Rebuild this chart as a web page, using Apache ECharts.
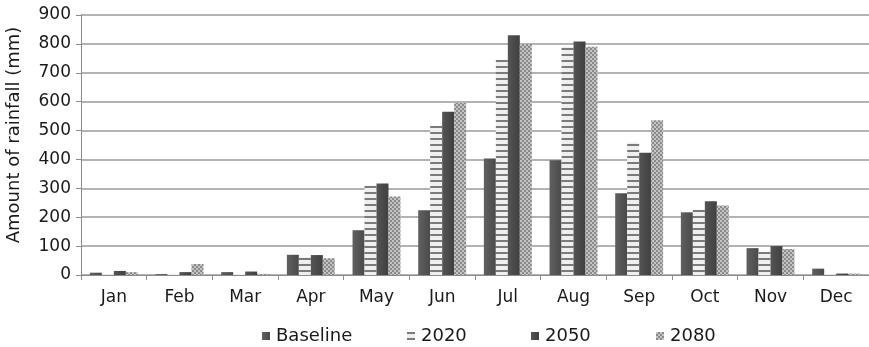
<!DOCTYPE html>
<html>
<head>
<meta charset="utf-8">
<script src="https://cdn.jsdelivr.net/npm/echarts@6/dist/echarts.min.js"></script>
<style>
  html, body { margin: 0; padding: 0; background: #ffffff; }
  #chart { width: 869px; height: 347px; }
</style>
</head>
<body>
<div id="chart"></div>
<script>
// Monthly rainfall (mm): baseline and projections
const months = ['Jan', 'Feb', 'Mar', 'Apr', 'May', 'Jun', 'Jul', 'Aug', 'Sep', 'Oct', 'Nov', 'Dec'];
const seriesNames = ['Baseline', '2020', '2050', '2080'];
const baseline = [8, 3, 10, 70, 155, 224, 403, 397, 283, 217, 93, 22];
const y2020 = [3, 5, 4, 62, 310, 517, 745, 790, 459, 226, 80, 3];
const y2050 = [14, 10, 12, 69, 317, 565, 830, 808, 423, 255, 100, 5];
const y2080 = [10, 38, 4, 58, 272, 595, 800, 790, 536, 241, 90, 5];
const yTicks = { min: 0, max: 900, step: 100 };

// Fill patterns for the hatched series
function stripePattern() {
  const c = document.createElement('canvas');
  c.width = 6; c.height = 6;
  const g = c.getContext('2d');
  g.fillStyle = '#efefef';
  g.fillRect(0, 0, 6, 6);
  g.fillStyle = '#7a7a7a';
  g.fillRect(0, 0, 6, 2);
  return c;
}
function checkerPattern() {
  const c = document.createElement('canvas');
  c.width = 4; c.height = 4;
  const g = c.getContext('2d');
  g.fillStyle = '#8a8a8a';
  g.fillRect(0, 0, 4, 4);
  g.fillStyle = '#c4c4c4';
  g.fillRect(0, 0, 2, 2);
  g.fillRect(2, 2, 2, 2);
  return c;
}

const fills = [
  new echarts.graphic.LinearGradient(0, 0, 1, 0, [
    { offset: 0, color: '#606060' }, { offset: 0.5, color: '#555555' }, { offset: 1, color: '#4a4a4a' }
  ]),
  { image: stripePattern(), repeat: 'repeat' },
  new echarts.graphic.LinearGradient(0, 0, 1, 0, [
    { offset: 0, color: '#555555' }, { offset: 0.5, color: '#4a4a4a' }, { offset: 1, color: '#404040' }
  ]),
  { image: checkerPattern(), repeat: 'repeat' }
];
const values = [baseline, y2020, y2050, y2080];

const FONT = 'DejaVu Sans';
const legendLeft = [257, 402, 526, 651];

const chart = echarts.init(document.getElementById('chart'), null, { renderer: 'canvas' });
chart.setOption({
  backgroundColor: '#ffffff',
  animation: false,
  textStyle: { fontFamily: FONT, color: '#1a1a1a' },
  grid: { left: 81, right: 0, top: 15, bottom: 72, containLabel: false, outerBoundsMode: 'none' },
  legend: seriesNames.map((name, i) => ({
    data: [name],
    left: legendLeft[i],
    top: 322,
    itemWidth: 8,
    itemHeight: 8,
    icon: 'rect',
    textStyle: { fontFamily: FONT, fontSize: 18, color: '#1a1a1a', padding: [0, 0, 0, 1] }
  })),
  xAxis: {
    type: 'category',
    data: months,
    axisLine: { lineStyle: { color: '#8c8c8c', width: 1 } },
    axisTick: { show: true, length: 5, lineStyle: { color: '#8c8c8c' } },
    axisLabel: { fontFamily: FONT, fontSize: 17, color: '#1a1a1a', margin: 14 }
  },
  yAxis: {
    type: 'value',
    min: yTicks.min,
    max: yTicks.max,
    interval: yTicks.step,
    name: 'Amount of rainfall (mm)',
    nameLocation: 'middle',
    nameGap: 58,
    nameTextStyle: { fontFamily: FONT, fontSize: 18, color: '#1a1a1a', padding: [0, 0, 0, 20] },
    axisLine: { show: true, lineStyle: { color: '#8c8c8c', width: 1 } },
    axisTick: { show: true, length: 5, lineStyle: { color: '#8c8c8c' } },
    axisLabel: { fontFamily: FONT, fontSize: 17, color: '#1a1a1a', margin: 10 },
    splitLine: { lineStyle: { color: '#9a9a9a', width: 1.5 } }
  },
  series: seriesNames.map((name, i) => ({
    name: name,
    type: 'bar',
    data: values[i],
    barGap: '0%',
    barCategoryGap: '27%',
    itemStyle: { color: fills[i] }
  }))
});
</script>
</body>
</html>
